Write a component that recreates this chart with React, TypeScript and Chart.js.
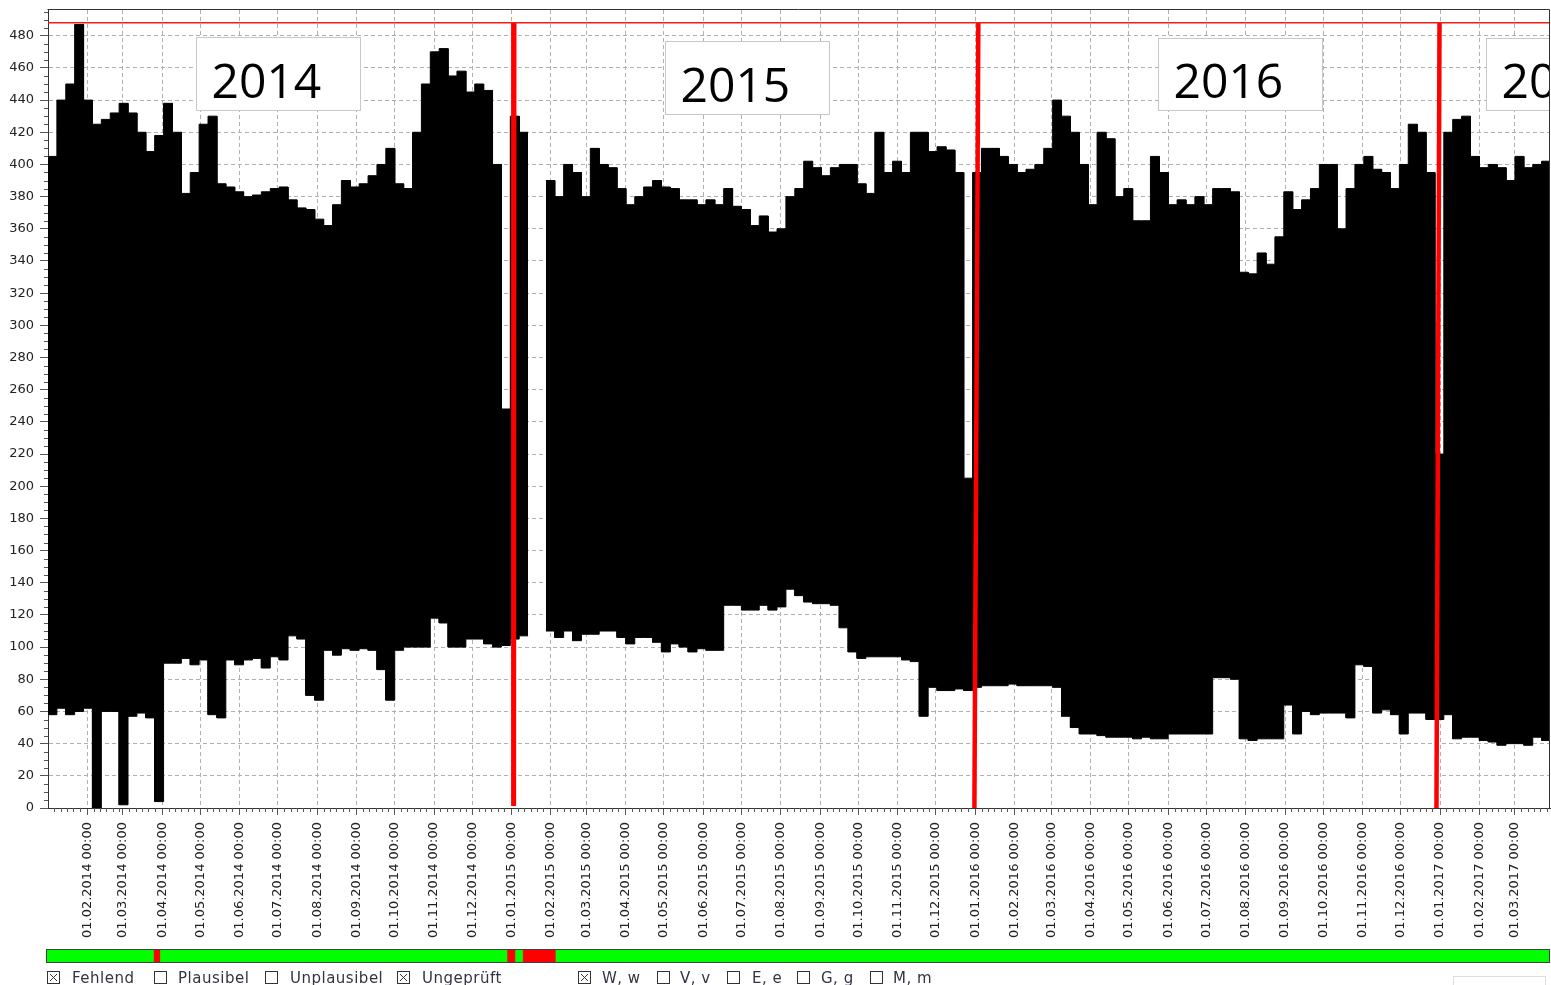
import React, { useEffect, useRef } from 'react';
import { Chart, registerables } from 'chart.js';

Chart.register(...registerables);

// ---------- data (weekly bins, day 0 = 01.01.2014) ----------
const BIN_DAYS = 7;
const X_MAX = 1182.6;
const Y_MAX = 496;
const Y_STEP = 20;
const Y_LAST_TICK = 480;

const upperWeekly: (number | null)[] = [
  405, 440, 450, 487, 440, 425, 428, 432, 438, 432,
  420, 408, 418, 438, 420, 382, 395, 425, 430, 388,
  386, 383, 380, 381, 383, 385, 386, 378, 373, 372,
  366, 362, 375, 390, 386, 388, 393, 400, 410, 388,
  385, 420, 450, 470, 472, 455, 458, 445, 450, 446,
  400, 248, 430, 420, null, null, 390, 380, 400, 395,
  380, 410, 400, 398, 385, 375, 380, 386, 390, 386,
  385, 378, 378, 375, 378, 375, 385, 374, 372, 362,
  368, 358, 360, 380, 385, 402, 398, 393, 398, 400,
  400, 388, 382, 420, 395, 402, 395, 420, 420, 408,
  411, 409, 395, 205, 395, 410, 410, 405, 400, 395,
  397, 400, 410, 440, 430, 420, 400, 375, 420, 416,
  380, 385, 365, 365, 405, 395, 375, 378, 375, 380,
  375, 385, 385, 383, 333, 332, 345, 338, 355, 383,
  372, 378, 385, 400, 400, 360, 385, 400, 405, 397,
  395, 385, 400, 425, 420, 395, 220, 420, 428, 430,
  405, 398, 400, 398, 390, 405, 398, 400, 402,
];

const lowerWeekly: (number | null)[] = [
  58, 62, 58, 60, 62, 0, 60, 60, 2, 57,
  59, 56, 4, 90, 90, 93, 89, 92, 58, 56,
  92, 89, 92, 93, 87, 94, 92, 107, 105, 70,
  67, 98, 95, 99, 98, 99, 98, 86, 67, 98,
  100, 100, 100, 118, 115, 100, 100, 105, 105, 102,
  100, 101, 105, 107, null, null, 110, 106, 110, 104,
  108, 108, 110, 110, 106, 102, 106, 106, 103, 97,
  102, 100, 97, 99, 98, 98, 126, 126, 123, 123,
  126, 123, 125, 136, 132, 128, 127, 127, 126, 112,
  97, 93, 94, 94, 94, 94, 92, 91, 57, 75,
  73, 73, 74, 73, 75, 76, 76, 76, 77, 76,
  76, 76, 76, 75, 57, 50, 46, 46, 45, 44,
  44, 44, 43, 44, 43, 43, 46, 46, 46, 46,
  46, 81, 81, 80, 43, 42, 43, 43, 43, 64,
  46, 60, 58, 59, 59, 59, 56, 89, 88, 59,
  61, 58, 46, 59, 59, 55, 55, 58, 43, 44,
  44, 42, 41, 39, 40, 40, 39, 44, 42,
];

const monthTickLabels: string[] = [
  '01.02.2014 00:00', '01.03.2014 00:00', '01.04.2014 00:00', '01.05.2014 00:00',
  '01.06.2014 00:00', '01.07.2014 00:00', '01.08.2014 00:00', '01.09.2014 00:00',
  '01.10.2014 00:00', '01.11.2014 00:00', '01.12.2014 00:00',
  '01.01.2015 00:00', '01.02.2015 00:00', '01.03.2015 00:00', '01.04.2015 00:00',
  '01.05.2015 00:00', '01.06.2015 00:00', '01.07.2015 00:00', '01.08.2015 00:00',
  '01.09.2015 00:00', '01.10.2015 00:00', '01.11.2015 00:00', '01.12.2015 00:00',
  '01.01.2016 00:00', '01.02.2016 00:00', '01.03.2016 00:00', '01.04.2016 00:00',
  '01.05.2016 00:00', '01.06.2016 00:00', '01.07.2016 00:00', '01.08.2016 00:00',
  '01.09.2016 00:00', '01.10.2016 00:00', '01.11.2016 00:00', '01.12.2016 00:00',
  '01.01.2017 00:00', '01.02.2017 00:00', '01.03.2017 00:00',
];

const missingRanges: [number, number][] = [[83.3, 88.3], [361.6, 367.9], [373.9, 399.7]];
const limitValue = 488;

const yearLineTopDays = [366.9, 732.5, 1095.6];
const yearLineBottomDays = [366.6, 729.4, 1093.2];
const yearLineBottomValues = [1.2, 0, 0];

const yearBoxLabels = ['2014', '2015', '2016', '2017'];
const yearBoxStartDays = [116.4, 485.6, 874.1, 1132.6];
const yearBoxEndDays = [245.5, 614.8, 1003.1, 1261];
const yearBoxTopValues = [479.2, 476.7, 478.6, 478.6];
const yearBoxBottomValues = [433.8, 431.4, 433.8, 433.8];

const legendLabels = ['Fehlend', 'Plausibel', 'Unplausibel', 'Ungeprüft', 'W, w', 'V, v', 'E, e', 'G, g', 'M, m'];
const legendChecked = [true, false, false, true, true, false, false, false, false];

// ---------- layout constants ----------
const W = 1551;
const H = 985;
const yearLineWidths = [5, 4.5, 4.5];
const legendBoxX = [47, 154, 265, 397, 578, 657, 727, 797, 870];
const legendTextX = [72, 178, 290, 422, 602, 680, 752, 821, 893];

const dayOf = (label: string) => {
  const [d, m, y] = label.slice(0, 10).split('.').map(Number);
  return (Date.UTC(y, m - 1, d) - Date.UTC(2014, 0, 1)) / 86400000;
};
const monthTickDays = monthTickLabels.map(dayOf);

const toSteps = (vals: (number | null)[]) => {
  const pts: { x: number; y: number | null }[] = [];
  vals.forEach((v, i) => {
    const x0 = i * BIN_DAYS;
    const x1 = Math.min((i + 1) * BIN_DAYS, X_MAX);
    if (v === null) {
      pts.push({ x: x0, y: null });
    } else {
      pts.push({ x: x0, y: v });
      pts.push({ x: x1, y: v });
    }
  });
  return pts;
};

const decorPlugin = {
  id: 'decor',
  afterDatasetsDraw(chart: any) {
    const { ctx, chartArea: a, scales } = chart;
    const x = scales.x;
    const y = scales.y;
    ctx.save();
    ctx.beginPath();
    ctx.rect(a.left, a.top, a.right - a.left, a.bottom - a.top);
    ctx.clip();
    yearBoxLabels.forEach((lab, i) => {
      const l = Math.round(x.getPixelForValue(yearBoxStartDays[i])) + 0.5;
      const r = Math.round(x.getPixelForValue(yearBoxEndDays[i])) + 0.5;
      const t = Math.round(y.getPixelForValue(yearBoxTopValues[i])) + 0.5;
      const b = Math.round(y.getPixelForValue(yearBoxBottomValues[i])) + 0.5;
      ctx.fillStyle = '#ffffff';
      ctx.fillRect(l, t, r - l, b - t);
      ctx.strokeStyle = '#c8c8c8';
      ctx.lineWidth = 1;
      ctx.strokeRect(l, t, r - l, b - t);
      ctx.fillStyle = '#000000';
      ctx.font = '48px "Open Sans"';
      ctx.textAlign = 'left';
      ctx.textBaseline = 'alphabetic';
      ctx.fillText(lab, l + 15, b - 13);
    });
    ctx.restore();
  },
  afterDraw(chart: any) {
    const { ctx, chartArea: a, scales } = chart;
    const x = scales.x;
    const y = scales.y;
    ctx.save();
    // top & right border
    ctx.strokeStyle = '#333333';
    ctx.lineWidth = 1;
    ctx.beginPath();
    ctx.moveTo(a.left - 0.5, a.top - 0.5);
    ctx.lineTo(a.right - 0.5, a.top - 0.5);
    ctx.lineTo(a.right - 0.5, a.bottom);
    ctx.stroke();
    // minor ticks y
    ctx.strokeStyle = '#555555';
    ctx.beginPath();
    for (let v = 5; v <= Y_MAX; v += 5) {
      if (v % Y_STEP === 0) continue;
      const py = Math.round(y.getPixelForValue(v)) + 0.5;
      ctx.moveTo(a.left - 4, py);
      ctx.lineTo(a.left, py);
    }
    // minor ticks x
    const starts = [0, ...monthTickDays];
    starts.forEach((s, i) => {
      const next = i + 1 < starts.length ? starts[i + 1] : X_MAX;
      for (let d = s + 5; d < next - 2; d += 5) {
        const px = Math.round(x.getPixelForValue(d)) + 0.5;
        ctx.moveTo(px, a.bottom);
        ctx.lineTo(px, a.bottom + 4);
      }
    });
    ctx.stroke();
    // status bar
    const barL = a.left - 2;
    const barR = a.right;
    const barT = 949;
    const barH = 14;
    ctx.fillStyle = '#00ff00';
    ctx.fillRect(barL, barT, barR - barL, barH);
    ctx.fillStyle = '#ff0000';
    missingRanges.forEach(([s, e]) => {
      const l = x.getPixelForValue(s);
      const r = x.getPixelForValue(e);
      ctx.fillRect(l, barT, r - l, barH);
    });
    ctx.strokeStyle = '#404040';
    ctx.strokeRect(barL + 0.5, barT + 0.5, barR - barL - 1, barH - 1);
    // legend
    ctx.font = '15px "DejaVu Sans"';
    try { (ctx as any).letterSpacing = '0.5px'; } catch (e) { /* ignore */ }
    ctx.textAlign = 'left';
    ctx.textBaseline = 'alphabetic';
    legendLabels.forEach((lab, i) => {
      const bx = legendBoxX[i] + 0.5;
      const by = 971.5;
      ctx.fillStyle = '#ffffff';
      ctx.fillRect(bx, by, 12, 12);
      ctx.strokeStyle = '#333333';
      ctx.lineWidth = 1;
      ctx.strokeRect(bx, by, 12, 12);
      if (legendChecked[i]) {
        ctx.beginPath();
        ctx.moveTo(bx + 2.5, by + 2.5);
        ctx.lineTo(bx + 9.5, by + 9.5);
        ctx.moveTo(bx + 9.5, by + 2.5);
        ctx.lineTo(bx + 2.5, by + 9.5);
        ctx.stroke();
      }
      ctx.fillStyle = '#333344';
      ctx.fillText(lab, legendTextX[i], 983);
    });
    try { (ctx as any).letterSpacing = '0px'; } catch (e) { /* ignore */ }
    // faint box bottom right
    ctx.strokeStyle = '#dddddd';
    ctx.strokeRect(1453.5, 976.5, 92, 20);
    ctx.restore();
  },
};

export default function App() {
  const ref = useRef<HTMLCanvasElement | null>(null);
  useEffect(() => {
    if (!ref.current) return;
    Chart.defaults.font.family = '"DejaVu Sans", sans-serif';
    const redLines = yearLineTopDays.map((td, i) => ({
      label: 'year' + i,
      data: [
        { x: td, y: limitValue },
        { x: yearLineBottomDays[i], y: yearLineBottomValues[i] },
      ],
      borderColor: '#ff0000',
      borderWidth: yearLineWidths[i],
      pointRadius: 0,
      fill: false,
      order: 0,
    }));
    const chart = new Chart(ref.current, {
      type: 'line',
      data: {
        datasets: [
          {
            label: 'min',
            data: toSteps(lowerWeekly),
            borderColor: '#000000',
            borderWidth: 1,
            pointRadius: 0,
            fill: false,
            spanGaps: false,
            order: 2,
          },
          {
            label: 'max',
            data: toSteps(upperWeekly),
            borderColor: '#000000',
            backgroundColor: '#000000',
            borderWidth: 1,
            pointRadius: 0,
            fill: '-1',
            spanGaps: false,
            order: 2,
          },
          {
            label: 'limit',
            data: [
              { x: 0, y: limitValue },
              { x: X_MAX, y: limitValue },
            ],
            borderColor: '#ee1c1c',
            borderWidth: 1.5,
            pointRadius: 0,
            fill: false,
            order: 0,
          },
          ...redLines,
        ] as any,
      },
      options: {
        responsive: false,
        animation: false,
        devicePixelRatio: 1,
        events: [],
        layout: { padding: { left: 0, top: 10, right: 1, bottom: 0 } },
        plugins: {
          legend: { display: false },
          tooltip: { enabled: false },
          title: { display: false },
        },
        scales: {
          x: {
            type: 'linear',
            min: 0,
            max: X_MAX,
            bounds: 'data',
            afterBuildTicks: (s: any) => {
              s.ticks = monthTickDays.map((v) => ({ value: v }));
            },
            afterFit: (s: any) => {
              s.height = 177;
              s.paddingLeft = 0;
              s.paddingRight = 0;
            },
            ticks: {
              autoSkip: false,
              minRotation: 90,
              maxRotation: 90,
              padding: 7,
              color: '#222222',
              font: { size: 13, family: '"DejaVu Sans"' },
              callback: (_v: any, i: number) => monthTickLabels[i],
            },
            grid: { color: '#b0b0b0', lineWidth: 1, tickLength: 7, tickColor: '#555555' },
            border: { display: true, color: '#333333', width: 1, dash: [4, 3] },
          },
          y: {
            type: 'linear',
            min: 0,
            max: Y_MAX,
            bounds: 'data',
            afterBuildTicks: (s: any) => {
              const t: { value: number }[] = [];
              for (let v = 0; v <= Y_LAST_TICK; v += Y_STEP) t.push({ value: v });
              s.ticks = t;
            },
            afterFit: (s: any) => {
              s.width = 48;
              s.paddingTop = 0;
              s.paddingBottom = 0;
            },
            ticks: {
              stepSize: Y_STEP,
              padding: 6,
              color: '#222222',
              font: { size: 13, family: '"DejaVu Sans"' },
              callback: (v: any) => String(v),
            },
            grid: { color: '#b0b0b0', lineWidth: 1, tickLength: 8, tickColor: '#555555' },
            border: { display: true, color: '#333333', width: 1, dash: [4, 3] },
          },
        },
      } as any,
      plugins: [decorPlugin],
    });
    return () => chart.destroy();
  }, []);
  return (
    <div style={{ position: 'absolute', left: 0, top: 0, width: W, height: H, background: '#fff' }}>
      <canvas ref={ref} width={W} height={H} style={{ display: 'block' }} />
    </div>
  );
}
